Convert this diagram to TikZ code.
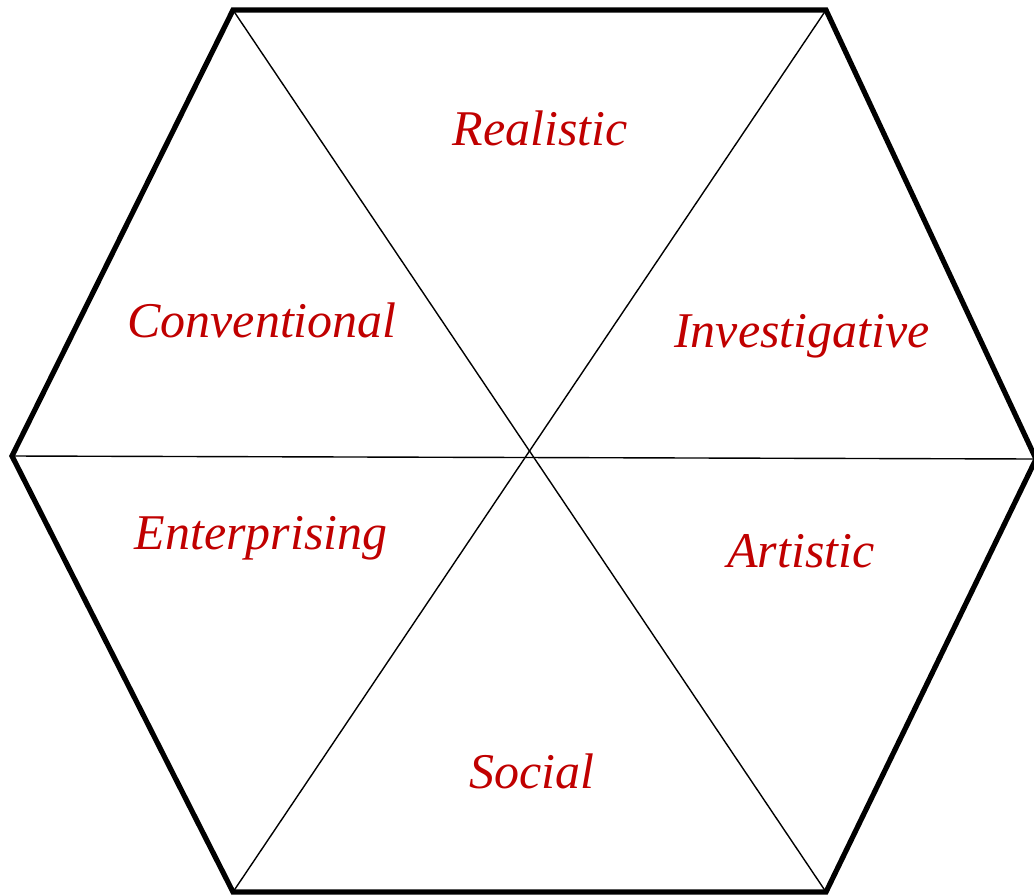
\documentclass[tikz,border=0pt]{standalone}
\usepackage{fontspec}
\setmainfont{Liberation Serif}
\usepackage{tikz}
\usetikzlibrary{positioning,calc}
\definecolor{typered}{RGB}{192,0,0}

\begin{document}
\begin{tikzpicture}[
    x=0.5pt, y=-0.5pt,
    rim/.style={line width=2.6pt, line join=miter},
    spoke/.style={line width=0.7pt},
    typelabel/.style={font=\fontsize{25}{30}\selectfont\itshape, text=typered, anchor=base, inner sep=0pt}
  ]
    \useasboundingbox (0,0) rectangle (1034,895);

    % corners of the hexagon
    \coordinate (tl) at (233,10);
    \coordinate (tr) at (826,10);
    \coordinate (rt) at (1036,459);
    \coordinate (br) at (826,892);
    \coordinate (bl) at (233,892);
    \coordinate (lf) at (12,456);

    \draw[spoke] (tl) -- (br);
    \draw[spoke] (tr) -- (bl);
    \draw[spoke] (lf) -- (rt);
    \draw[rim] (tl) -- (tr) -- (rt) -- (br) -- (bl) -- (lf) -- cycle;

    \node[typelabel] (realistic) at (540,145) {Realistic};
    \node[typelabel] (investigative) at (802,347) {Investigative};
    \node[typelabel] (artistic) at (801,567) {Artistic};
    \node[typelabel] (social) at (532,788) {Social};
    \node[typelabel] (enterprising) at (261,549) {Enterprising};
    \node[typelabel] (conventional) at (262,337) {Conventional};
  \end{tikzpicture}
\end{document}
